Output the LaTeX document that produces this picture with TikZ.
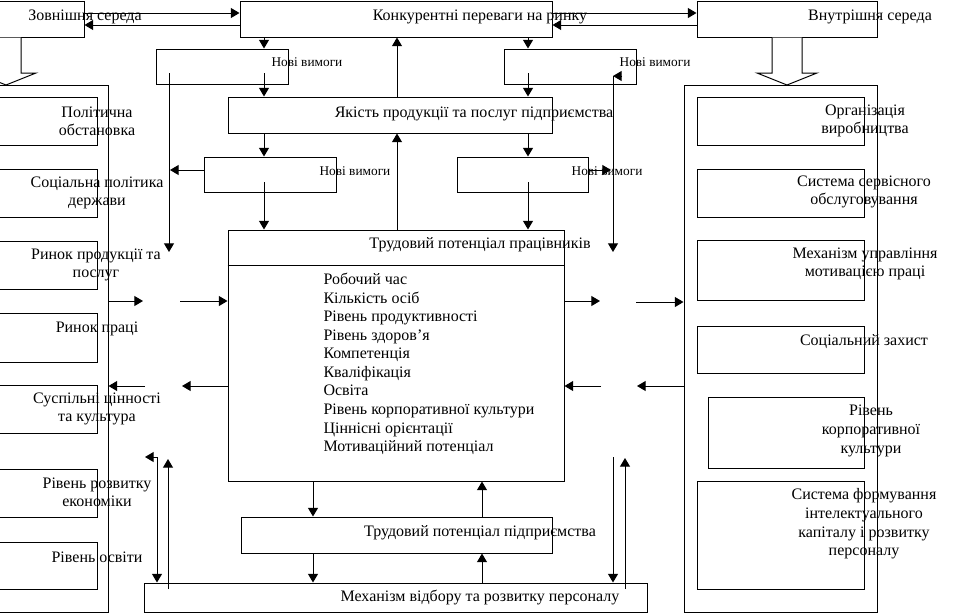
\documentclass[tikz,border=0pt]{standalone}
\usepackage{fontspec}
\setmainfont{Liberation Serif}
\usetikzlibrary{arrows.meta,fit}

\begin{document}
\begin{tikzpicture}[x=0.75pt,y=-0.75pt,line width=0.75pt,
    box/.style={draw,inner sep=0pt},
    arr/.style={-{Triangle[length=6.5pt,width=7.5pt]}},
    lbl/.style={inner sep=0pt,align=center,font=\fontsize{12}{13.5}\selectfont},
    small/.style={inner sep=0pt,font=\fontsize{10}{12}\selectfont}]
    \useasboundingbox (0,0) rectangle (963,615);

    % top row
    \node[box,fit={(-20,1) (84,37)}] (zovn) {};
    \node[box,fit={(240,1) (552,37)}] (konk) {};
    \node[box,fit={(697,1) (877,37)}] (vnutr) {};
    \node[lbl] (tzovn) at (85,17) {Зовнішня середа};
    \node[lbl] (tkonk) at (480,17) {Конкурентні переваги на ринку};
    \node[lbl] (tvnutr) at (870,17) {Внутрішня середа};
    \draw[arr] (zovn.east |- 0,13) -- (konk.west |- 0,13);
    \draw[arr] (konk.west |- 0,25) -- (zovn.east |- 0,25);
    \draw[arr] (konk.east |- 0,13) -- (vnutr.west |- 0,13);
    \draw[arr] (vnutr.west |- 0,25) -- (konk.east |- 0,25);

    % new requirements and quality
    \node[box,fit={(156,49) (288,84)}] (nv1) {};
    \node[box,fit={(504,49) (636,84)}] (nv2) {};
    \node[box,fit={(228,97) (552,133)}] (yak) {};
    \node[box,fit={(204,157) (336,192)}] (nv3) {};
    \node[box,fit={(457,157) (588,192)}] (nv4) {};
    \node[small] (tnv1) at (307,62) {Нові вимоги};
    \node[small] (tnv2) at (655,62) {Нові вимоги};
    \node[lbl] (tyak) at (474,114) {Якість продукції та послуг підприємства};
    \node[small] (tnv3) at (355,171) {Нові вимоги};
    \node[small] (tnv4) at (607,171) {Нові вимоги};

    \coordinate (a1) at (264,73);
    \coordinate (a2) at (528,73);
    \coordinate (a3) at (264,182);
    \coordinate (a4) at (528,182);
    \draw[arr] (264,0 |- konk.south) -- (264,0 |- nv1.north);
    \draw[arr] (528,0 |- konk.south) -- (528,0 |- nv2.north);
    \draw[arr] (a1) -- (a1 |- yak.north);
    \draw[arr] (a2) -- (a2 |- yak.north);
    \draw[arr] (397,0 |- yak.north) -- (397,0 |- konk.south);
    \draw[arr] (264,0 |- yak.south) -- (264,0 |- nv3.north);
    \draw[arr] (528,0 |- yak.south) -- (528,0 |- nv4.north);
    \draw[arr] (nv3.west |- 0,170) -- (170,170);
    \draw[arr] (nv4.east |- 0,170) -- (611,170);

    % long verticals
    \coordinate (v1) at (169,73);
    \coordinate (v2) at (613,76);
    \draw[arr] (v1) -- (169,252);
    \draw[arr] (v2) -- (613,252);
    \draw[arr] (622,76) -- (v2);

    % labour potential of workers
    \node[box,fit={(228,230) (564,481)}] (trud) {};
    \draw (trud.west |- 0,265) -- (trud.east |- 0,265);
    \node[lbl] (ttrud) at (480,245) {Трудовий потенціал працівників};
    \node[lbl,align=left,anchor=west,font=\fontsize{12}{13.9}\selectfont] (list) at (323,364) {Робочий час\\Кількість осіб\\Рівень продуктивності\\Рівень здоров’я\\Компетенція\\Кваліфікація\\Освіта\\Рівень корпоративної культури\\Ціннісні орієнтації\\Мотиваційний потенціал};
    \draw[arr] (a3) -- (a3 |- trud.north);
    \draw[arr] (a4) -- (a4 |- trud.north);
    \draw[arr] (397,0 |- trud.north) -- (397,0 |- yak.south);

    % outer environment
    \node[box,fit={(-20,85) (108,612)}] (zcont) {};
    \draw[fill=white] (-9,0 |- zovn.south) -- (-9,73) -- (-24,73) -- (6,85) -- (36,73) -- (21,73) -- (21,0 |- zovn.south);
    \node[box,fit={(-20,97) (97,145)}] (z1) {};
    \node[box,fit={(-20,169) (97,217)}] (z2) {};
    \node[box,fit={(-20,241) (97,289)}] (z3) {};
    \node[box,fit={(-20,313) (97,362)}] (z4) {};
    \node[box,fit={(-20,385) (97,433)}] (z5) {};
    \node[box,fit={(-20,469) (97,517)}] (z6) {};
    \node[box,fit={(-20,542) (97,589)}] (z7) {};
    \node[lbl] (tz1) at (97,121) {Політична\\обстановка};
    \node[lbl] (tz2) at (97,193) {Соціальна політика\\держави};
    \node[lbl] (tz3) at (96,265) {Ринок продукції та\\послуг};
    \node[lbl] (tz4) at (97,329) {Ринок праці};
    \node[lbl] (tz5) at (97,409) {Суспільні цінності\\та культура};
    \node[lbl] (tz6) at (97,492) {Рівень розвитку\\економіки};
    \node[lbl] (tz7) at (97,557) {Рівень освіти};

    % inner environment
    \node[box,fit={(684,85) (877,612)}] (vcont) {};
    \draw[fill=white] (772,0 |- vnutr.south) -- (772,73) -- (757,73) -- (787,85) -- (817,73) -- (802,73) -- (802,0 |- vnutr.south);
    \node[box,fit={(697,97) (864,145)}] (v1b) {};
    \node[box,fit={(697,169) (864,217)}] (v2b) {};
    \node[box,fit={(697,240) (864,300)}] (v3b) {};
    \node[box,fit={(697,326) (864,373)}] (v4b) {};
    \node[box,fit={(708,397) (864,468)}] (v5b) {};
    \node[box,fit={(697,481) (864,589)}] (v6b) {};
    \node[lbl] (tv1) at (865,121) {Організація\\виробництва};
    \node[lbl] (tv2) at (864,192) {Система сервісного\\обслуговування};
    \node[lbl] (tv3) at (865,264) {Механізм управління\\мотивацією праці};
    \node[lbl] (tv4) at (864,342) {Соціальний захист};
    \node[lbl,font=\fontsize{12}{14.5}\selectfont] (tv5) at (871,431) {Рівень\\корпоративної\\культури};
    \node[lbl,font=\fontsize{12}{14}\selectfont] (tv6) at (864,524) {Система формування\\інтелектуального\\капіталу і розвитку\\персоналу};

    % side arrows
    \coordinate (s1) at (143,301);
    \coordinate (s2) at (180,301);
    \coordinate (s3) at (145,386);
    \coordinate (s4) at (182,386);
    \coordinate (s5) at (600,301);
    \coordinate (s6) at (636,302);
    \coordinate (s7) at (601,386);
    \coordinate (s8) at (637,386);
    \draw[arr] (zcont.east |- s1) -- (s1);
    \draw[arr] (s2) -- (trud.west |- s2);
    \draw[arr] (s3) -- (zcont.east |- s3);
    \draw[arr] (trud.west |- s4) -- (s4);
    \draw[arr] (trud.east |- s5) -- (s5);
    \draw[arr] (s6) -- (vcont.west |- s6);
    \draw[arr] (s7) -- (trud.east |- s7);
    \draw[arr] (vcont.west |- s8) -- (s8);

    % bottom
    \node[box,fit={(241,517) (552,553)}] (tpp) {};
    \node[box,fit={(144,583) (647,612)}] (mech) {};
    \node[lbl] (ttpp) at (480,533) {Трудовий потенціал підприємства};
    \node[lbl] (tmech) at (480,597) {Механізм відбору та розвитку персоналу};
    \draw[arr] (313,0 |- trud.south) -- (313,0 |- tpp.north);
    \draw[arr] (313,0 |- tpp.south) -- (313,0 |- mech.north);
    \draw[arr] (482,0 |- tpp.north) -- (482,0 |- trud.south);
    \draw[arr] (482,0 |- mech.north) -- (482,0 |- tpp.south);

    \coordinate (b1) at (157,457);
    \coordinate (b2) at (168,459);
    \coordinate (b3) at (613,457);
    \coordinate (b4) at (625,458);
    \draw[arr] (b1) -- (b1 |- mech.north);
    \draw[arr] (b1) -- (145,457);
    \draw[arr] (168,589) -- (b2);
    \draw[arr] (b3) -- (b3 |- mech.north);
    \draw[arr] (625,589) -- (b4);
\end{tikzpicture}
\end{document}
